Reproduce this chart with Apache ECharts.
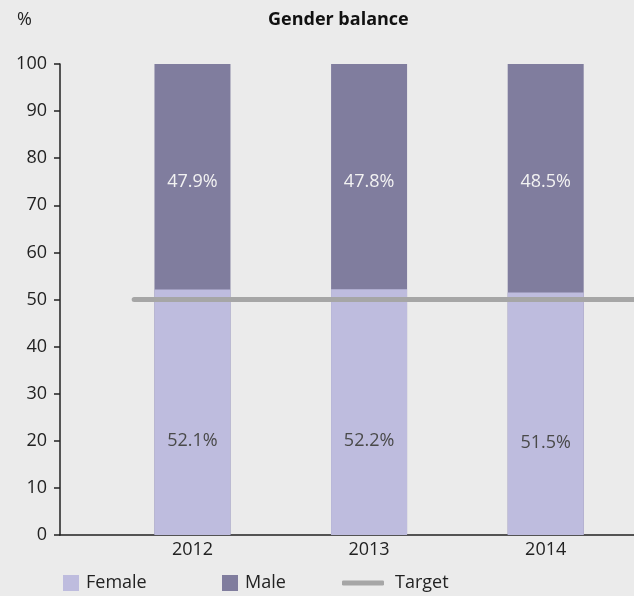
<!DOCTYPE html>
<html>
<head>
<meta charset="utf-8">
<script src="https://cdn.jsdelivr.net/npm/echarts@6/dist/echarts.min.js"></script>
<style>
  html, body { margin: 0; padding: 0; background: #ebebeb; }
  #chart { width: 634px; height: 596px; }
</style>
</head>
<body>
<div id="chart"></div>
<script>
// values
const years = ['2012', '2013', '2014']
const yearPos = [1, 2, 3]
const female = [52.1, 52.2, 51.5]
const male = [47.9, 47.8, 48.5]
const targetValue = 50
const targetFrom = 0.67
const targetTo = 3.5

const font = '"Open Sans", "Noto Sans", sans-serif'
const txt = { fontSize: 18, color: '#222', fontFamily: font }
const chart = echarts.init(document.getElementById('chart'))

chart.setOption({
  backgroundColor: '#ebebeb',
  animation: false,
  textStyle: { fontFamily: font },
  title: [
    {
      text: 'Gender balance', left: 263, top: 6,
      textStyle: { fontSize: 18, fontWeight: 'bold', color: '#111', fontFamily: font }
    },
    {
      text: '%', left: 12, top: 6,
      textStyle: { fontSize: 18, fontWeight: 'normal', color: '#222', fontFamily: font }
    }
  ],
  legend: [
    {
      data: ['Female'], left: 63, top: 574, padding: 0,
      itemWidth: 16, itemHeight: 16, icon: 'rect',
      textStyle: Object.assign({ padding: [0, 0, 0, 2] }, txt)
    },
    {
      data: ['Male'], left: 222, top: 574, padding: 0,
      itemWidth: 16, itemHeight: 16, icon: 'rect',
      textStyle: Object.assign({ padding: [0, 0, 0, 2] }, txt)
    },
    {
      data: ['Target'], left: 342, top: 574, padding: 0,
      itemWidth: 42, itemHeight: 5, icon: 'roundRect',
      textStyle: Object.assign({ padding: [0, 0, 0, 6] }, txt)
    }
  ],
  grid: { left: 60, right: 0, top: 64, bottom: 61 },
  xAxis: {
    type: 'value', min: 0.25, max: 3.5,
    splitLine: { show: false },
    axisLine: { show: true, onZero: false, lineStyle: { color: '#222', width: 1.5 } },
    axisTick: { show: false },
    axisLabel: Object.assign({
      customValues: yearPos,
      formatter: v => years[yearPos.indexOf(v)] || '',
      margin: 6
    }, txt)
  },
  yAxis: {
    type: 'value', min: 0, max: 100, interval: 10,
    splitLine: { show: false },
    axisLine: { show: true, lineStyle: { color: '#222', width: 1.5 } },
    axisTick: { show: true, length: 6, lineStyle: { color: '#222', width: 1.5 } },
    axisLabel: Object.assign({ margin: 13 }, txt)
  },
  series: [
    {
      // male part drawn full height, female bar sits on top of its lower part
      name: 'Male', type: 'bar', barWidth: 76, barGap: '-100%', z: 2,
      itemStyle: { color: '#807d9e' },
      label: {
        show: true, position: 'insideTop', offset: [0, 104],
        formatter: p => male[p.dataIndex].toFixed(1) + '%',
        fontSize: 18, color: '#f2f2f2', fontFamily: font
      },
      data: male.map((v, i) => [yearPos[i], female[i] + v])
    },
    {
      name: 'Female', type: 'bar', barWidth: 76, barGap: '-100%', z: 3,
      itemStyle: { color: '#bebcde' },
      label: {
        show: true, position: 'inside', offset: [0, 29],
        formatter: p => female[p.dataIndex].toFixed(1) + '%',
        fontSize: 18, color: '#4a4a4a', fontFamily: font
      },
      data: female.map((v, i) => [yearPos[i], v])
    },
    {
      name: 'Target', type: 'line', symbol: 'none', z: 5,
      itemStyle: { color: '#a6a6a6' },
      lineStyle: { color: '#a6a6a6', width: 5, cap: 'round' },
      data: [[targetFrom, targetValue], [targetTo, targetValue]]
    }
  ]
})
</script>
</body>
</html>
